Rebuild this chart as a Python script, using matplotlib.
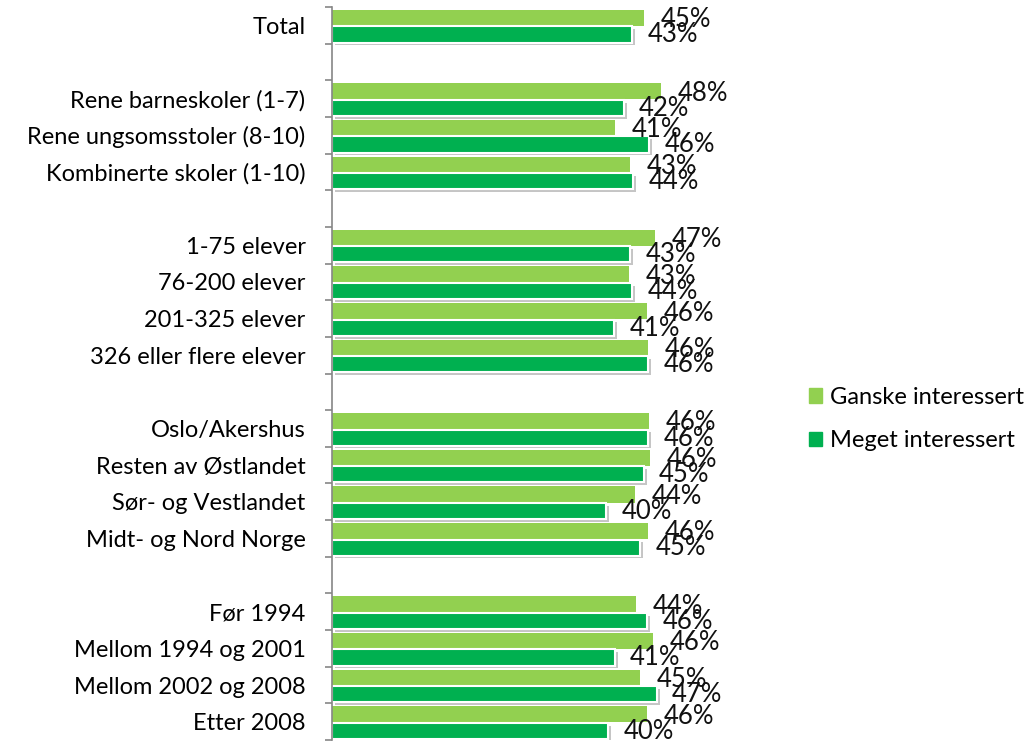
import matplotlib
matplotlib.use("Agg")
import matplotlib.pyplot as plt
import matplotlib.patheffects as pe
import numpy as np

plt.rcParams['font.family'] = ['Lato', 'DejaVu Sans']

# categories, top to bottom ("" = blank spacer row)
categories = ["Total", "",
              "Rene barneskoler (1-7)", "Rene ungsomsstoler (8-10)", "Kombinerte skoler (1-10)", "",
              "1-75 elever", "76-200 elever", "201-325 elever", "326 eller flere elever", "",
              "Oslo/Akershus", "Resten av Østlandet", "Sør- og Vestlandet", "Midt- og Nord Norge", "",
              "Før 1994", "Mellom 1994 og 2001", "Mellom 2002 og 2008", "Etter 2008"]

# values in percent, None = spacer
ganske = [45.3, None, 47.8, 41.1, 43.3, None, 46.9, 43.2, 45.8, 45.9, None,
          46.1, 46.2, 44.0, 45.9, None, 44.2, 46.7, 44.8, 45.8]
meget = [43.6, None, 42.4, 46.1, 43.8, None, 43.3, 43.6, 41.0, 45.9, None,
         45.9, 45.3, 39.8, 44.8, None, 45.8, 41.1, 47.2, 40.1]

# printed data labels
ganske_lbl = [45, None, 48, 41, 43, None, 47, 43, 46, 46, None,
              46, 46, 44, 46, None, 44, 46, 45, 46]
meget_lbl = [43, None, 42, 46, 44, None, 43, 44, 41, 46, None,
             46, 45, 40, 45, None, 46, 41, 47, 40]

light = "#92D050"
dark = "#00B050"

fig = plt.figure(figsize=(10.31, 7.43), dpi=100)
ax = fig.add_axes([332 / 1031, 3 / 743, (745 - 332) / 1031, (736 - 3) / 743])

n = len(categories)
for i in range(n):
    if ganske[i] is None:
        continue
    yl = i + 0.30
    yd = i + 0.75
    ax.barh(yl, ganske[i], height=0.44, color=light, edgecolor="none")
    ax.barh(yd, meget[i], height=0.44, color=dark, edgecolor="white", linewidth=1.5,
            path_effects=[pe.SimplePatchShadow(offset=(2, -2), shadow_rgbFace="gray", alpha=0.45), pe.Normal()])
    ax.annotate(f"{ganske_lbl[i]}%", (ganske[i], yl + 0.05), xytext=(12, 0), textcoords="offset points",
                va="center", ha="left", fontsize=18.5, color="#111111")
    ax.annotate(f"{meget_lbl[i]}%", (meget[i], yd + 0.01), xytext=(11, 0), textcoords="offset points",
                va="center", ha="left", fontsize=18.5, color="#111111")

ax.set_xlim(0, 60)
ax.set_ylim(n, 0)
ax.set_yticks(np.arange(n) + 0.5)
ax.set_yticklabels(categories, fontsize=17)
ax.set_yticks(np.arange(n + 1), minor=True)
ax.tick_params(axis="y", which="major", length=0, pad=19)
ax.tick_params(axis="y", which="minor", length=5, color="#868686", width=1.2)
ax.set_xticks([])
for s in ["top", "right", "bottom"]:
    ax.spines[s].set_visible(False)
ax.spines["left"].set_color("#868686")
ax.spines["left"].set_linewidth(1.2)

handles = [plt.Rectangle((0, 0), 1, 1, color=light), plt.Rectangle((0, 0), 1, 1, color=dark)]
fig.legend(handles, ["Ganske interessert", "Meget interessert"], loc="center left",
           bbox_to_anchor=(788 / 1031, 1 - 419 / 743), frameon=False, fontsize=17,
           handlelength=0.55, handleheight=0.55, handletextpad=0.35, labelspacing=0.95)

fig.savefig("out.png", dpi=100)
